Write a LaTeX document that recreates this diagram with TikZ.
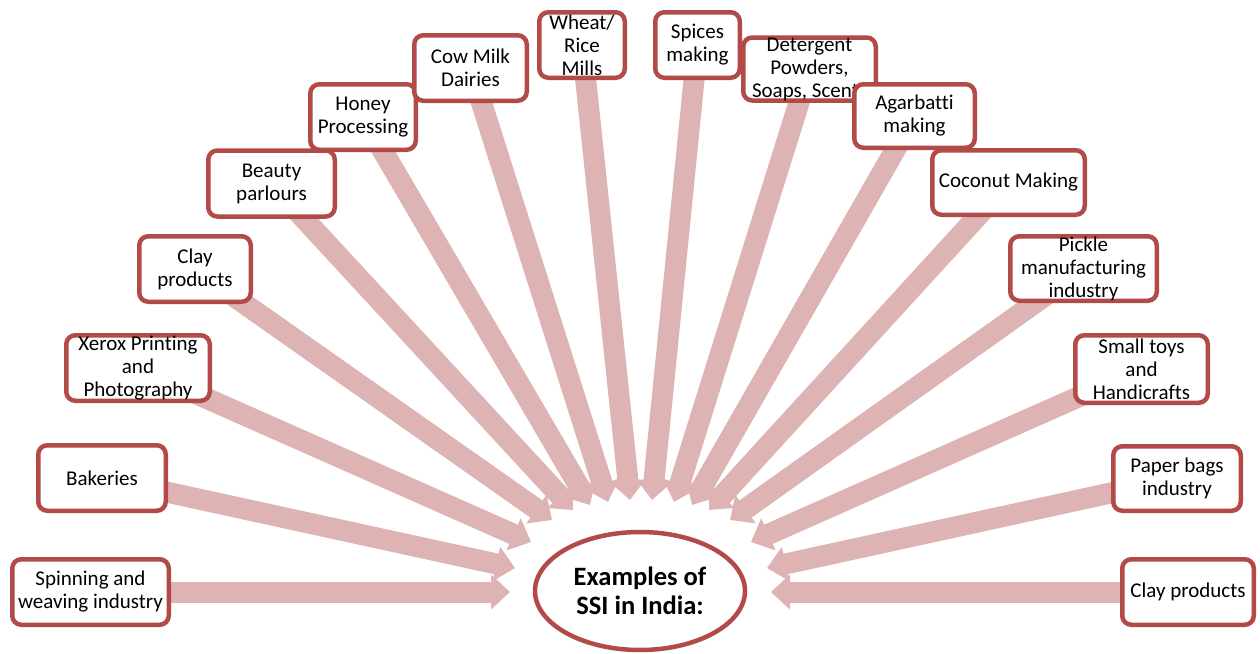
\documentclass[tikz,border=0pt]{standalone}
\usepackage{fontspec}
\setmainfont{Carlito}[Ligatures={NoCommon}]
\usetikzlibrary{arrows.meta,shapes.geometric}
\definecolor{boxred}{RGB}{178,74,72}
\definecolor{arrowpink}{RGB}{221,179,179}
\pgfdeclarelayer{background}
\pgfsetlayers{background,main}
\begin{document}
\begin{tikzpicture}[x=1pt,y=-1pt,
  sbox/.style={draw=boxred, line width=4.5pt, fill=white, rounded corners=9pt,
    align=center, inner sep=0pt, font=\fontsize{21}{23}\selectfont},
  flow/.style={draw=arrowpink, line width=21pt, -{Triangle[width=34pt,length=19pt]}}]
\useasboundingbox (0,0) rectangle (1260,653);
% boxes (drawing order matters for overlaps)
\node[sbox, minimum width=156.5pt, minimum height=65.5pt] (spin) at (90.5,592) {Spinning and\\weaving industry};
\node[sbox, minimum width=127.5pt, minimum height=65.5pt] (bak) at (102,478) {Bakeries};
\node[sbox, minimum width=143.5pt, minimum height=65.5pt] (xer) at (138,368) {Xerox Printing\\and\\Photography};
\node[sbox, minimum width=111.5pt, minimum height=65.5pt] (clayl) at (195,269) {Clay\\products};
\node[sbox, minimum width=126.5pt, minimum height=66pt] (beau) at (271.5,183.5) {Beauty\\parlours};
\node[sbox, minimum width=105.5pt, minimum height=65.5pt] (honey) at (363,117) {Honey\\Processing};
\node[sbox, minimum width=112.5pt, minimum height=65.5pt] (cow) at (470.5,68) {Cow Milk\\Dairies};
\node[sbox, minimum width=85.5pt, minimum height=65.5pt] (wheat) at (582,45) {Wheat/\\Rice\\Mills};
\node[sbox, minimum width=84.5pt, minimum height=65.5pt] (spice) at (697.5,45) {Spices\\making};
\node[sbox, minimum width=132.5pt, minimum height=63pt] (det) at (809.5,69) {Detergent\\Powders,\\Soaps, Scents};
\node[sbox, minimum width=120.5pt, minimum height=63.5pt] (agar) at (914.5,116) {Agarbatti\\making};
\node[sbox, minimum width=152.5pt, minimum height=64.5pt] (coco) at (1008.5,182.5) {Coconut Making};
\node[sbox, minimum width=146.5pt, minimum height=64.5pt] (pick) at (1083.5,268.5) {Pickle\\manufacturing\\industry};
\node[sbox, minimum width=132.5pt, minimum height=67.5pt] (toys) at (1141.5,369) {Small toys\\and\\Handicrafts};
\node[sbox, minimum width=127.5pt, minimum height=64.5pt] (paper) at (1177,478.5) {Paper bags\\industry};
\node[sbox, minimum width=131.5pt, minimum height=65.5pt] (clayr) at (1188,592) {Clay products};
% hub
\node[draw=boxred, line width=4.5pt, fill=white, ellipse, inner sep=0pt,
  minimum width=210pt, minimum height=118pt, align=center,
  font=\bfseries\fontsize{26.5}{29}\selectfont] (hub) at (640,591) {Examples of\\SSI in India:};
% arrow tips
\coordinate (t1) at (510,592);
\coordinate (t2) at (515,568);
\coordinate (t3) at (531,542);
\coordinate (t4) at (552,520);
\coordinate (t5) at (573,510);
\coordinate (t6) at (590,505);
\coordinate (t7) at (608,502);
\coordinate (t8) at (630,500);
\coordinate (t9) at (652,500);
\coordinate (t10) at (674,502);
\coordinate (t11) at (692,505);
\coordinate (t12) at (709,510);
\coordinate (t13) at (730,520);
\coordinate (t14) at (751,542);
\coordinate (t15) at (767,568);
\coordinate (t16) at (771,592);
\begin{pgfonlayer}{background}
\draw[flow] (spin.center) -- (t1);
\draw[flow] (bak.center) -- (t2);
\draw[flow] (xer.center) -- (t3);
\draw[flow] (clayl.center) -- (t4);
\draw[flow] (beau.center) -- (t5);
\draw[flow] (honey.center) -- (t6);
\draw[flow] (cow.center) -- (t7);
\draw[flow] (wheat.center) -- (t8);
\draw[flow] (spice.center) -- (t9);
\draw[flow] (det.center) -- (t10);
\draw[flow] (agar.center) -- (t11);
\draw[flow] (coco.center) -- (t12);
\draw[flow] (pick.center) -- (t13);
\draw[flow] (toys.center) -- (t14);
\draw[flow] (paper.center) -- (t15);
\draw[flow] (clayr.center) -- (t16);
\end{pgfonlayer}
\end{tikzpicture}
\end{document}
